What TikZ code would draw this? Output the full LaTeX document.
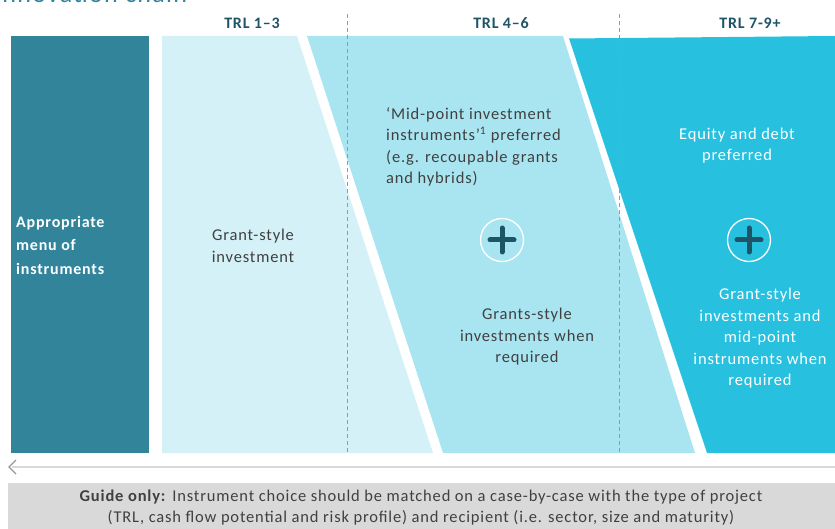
\documentclass[tikz,border=0pt]{standalone}
\usepackage{fontspec}
\setmainfont{Carlito}[LetterSpace=5]
\usetikzlibrary{calc}

\definecolor{tealdark}{HTML}{32849B}
\definecolor{navyteal}{HTML}{1E5566}
\definecolor{stageone}{HTML}{D3F1F7}
\definecolor{stagetwo}{HTML}{A9E5F1}
\definecolor{stagethree}{HTML}{27C0DE}
\definecolor{bodygrey}{HTML}{404040}
\definecolor{footgrey}{HTML}{D9D9D9}

\tikzset{
	trlhead/.style={font=\bfseries\fontsize{16}{20}\selectfont, text=navyteal},
	bodytext/.style={font=\fontsize{16.5}{21.5}\selectfont, text=bodygrey, align=center, inner sep=0pt},
	plusring/.style={circle, draw=white, line width=1.3pt, minimum size=43pt, inner sep=0pt},
	plusbar/.style={navyteal, line width=5pt, line cap=round},
	stagedash/.style={draw=gray!80, line width=1pt, dash pattern=on 4pt off 3pt}
}

\begin{document}
\begin{tikzpicture}[x=1pt,y=-1pt]
	\clip (0,0) rectangle (835,529);
	\useasboundingbox (0,0) rectangle (835,529);
	
	% cut-off heading
	\node[anchor=base west, inner sep=0pt, text=tealdark, font=\fontsize{26}{30}\selectfont] (heading) at (-5,3) {innovation chain};
	
	% stage panels
	\fill[tealdark] (11,36) rectangle (149,453);
	\fill[stageone] (162,36) -- (297,36) -- (433,453) -- (162,453) -- cycle;
	\fill[stagetwo] (307,36) -- (563,36) -- (695,453) -- (443,453) -- cycle;
	\fill[stagethree] (569,38.5) -- (835,36) -- (835,453) -- (707,453) -- cycle;
	
	\draw[stagedash] (347,14) -- (347,453);
	\draw[stagedash] (619,14) -- (619,453);
	
	\node[trlhead] (trl13) at (252,23) {TRL 1--3};
	\node[trlhead] (trl46) at (501,23) {TRL 4--6};
	\node[trlhead] (trl79) at (750,23) {TRL 7-9+};
	
	\node[bodytext, text=white, align=left, anchor=west, font=\bfseries\fontsize{16}{23.5}\selectfont] (menu) at (16,245) {Appropriate\\menu of\\instruments};
	
	\node[bodytext] (grantone) at (253,246) {Grant-style\\investment};
	
	\node[bodytext, align=left, anchor=west] (midpoint) at (386,147) {`Mid-point investment\\instruments'\textsuperscript{1} preferred\\(e.g. recoupable grants\\and hybrids)};
	\node[plusring] (plustwo) at (502,240) {};
	\draw[plusbar] ([xshift=-12pt]plustwo.center) -- ([xshift=12pt]plustwo.center);
	\draw[plusbar] ([yshift=-12pt]plustwo.center) -- ([yshift=12pt]plustwo.center);
	\node[bodytext] (granttwo) at (527,337) {Grants-style\\investments when\\required};
	
	\node[bodytext, text=white] (equity) at (737,145.5) {Equity and debt\\preferred};
	\node[plusring] (plusthree) at (749,240) {};
	\draw[plusbar] ([xshift=-12pt]plusthree.center) -- ([xshift=12pt]plusthree.center);
	\draw[plusbar] ([yshift=-12pt]plusthree.center) -- ([yshift=12pt]plusthree.center);
	\node[bodytext, text=white] (grantthree) at (760,338.5) {Grant-style\\investments and\\mid-point\\instruments when\\required};
	
	% scroll line
	\coordinate (scrollstart) at (12,467);
	\coordinate (scrollend) at (835,467);
	\draw[footgrey, line width=1.2pt] (scrollstart) -- (scrollend);
	\draw[gray!80, line width=1.2pt] ($(scrollstart)+(4,-7)$) -- ($(scrollstart)+(-3,0)$) -- ($(scrollstart)+(4,7)$);
	
	% footer
	\fill[footgrey] (8,483) rectangle (835,529);
	\node[bodytext, font=\fontsize{16.5}{21}\selectfont] (guide) at (421,507.5) {\textbf{Guide only:} Instrument choice should be matched on a case-by-case with the type of project\\(TRL, cash flow potential and risk profile) and recipient (i.e. sector, size and maturity)};
\end{tikzpicture}
\end{document}
